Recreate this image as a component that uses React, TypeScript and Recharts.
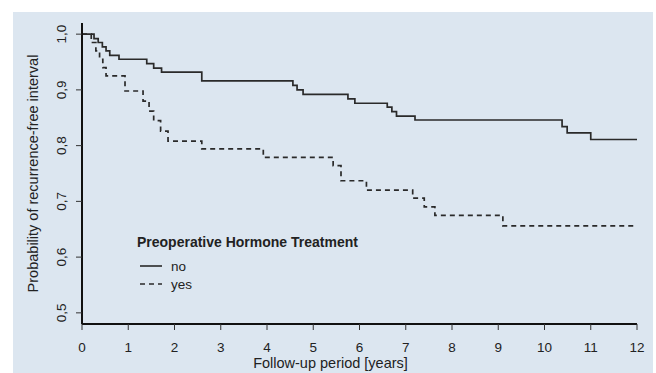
import React from 'react';
import { LineChart, Line, XAxis, YAxis } from 'recharts';

const xTicks = [0, 1, 2, 3, 4, 5, 6, 7, 8, 9, 10, 11, 12];
const yTicks = [0.5, 0.6, 0.7, 0.8, 0.9, 1.0];

const noTimes = [0, 0.26, 0.35, 0.44, 0.52, 0.6, 0.8, 1.4, 1.55, 1.72, 2.59, 4.56, 4.65, 4.78, 5.75, 5.9, 6.6, 6.7, 6.8, 7.2, 10.38, 10.49, 11.0, 12];
const noValues = [1.0, 0.992, 0.985, 0.977, 0.97, 0.962, 0.955, 0.947, 0.939, 0.932, 0.916, 0.908, 0.9, 0.892, 0.884, 0.876, 0.869, 0.861, 0.853, 0.846, 0.834, 0.823, 0.811, 0.811];

const yesTimes = [0, 0.2, 0.3, 0.38, 0.45, 0.52, 0.93, 1.32, 1.45, 1.55, 1.7, 1.86, 2.59, 3.92, 5.43, 5.6, 6.15, 7.15, 7.4, 7.63, 9.1, 12];
const yesValues = [1.0, 0.985, 0.97, 0.955, 0.94, 0.925, 0.898, 0.88, 0.862, 0.845, 0.826, 0.808, 0.794, 0.779, 0.764, 0.737, 0.72, 0.706, 0.69, 0.675, 0.656, 0.656];

const legendTitle = 'Preoperative Hormone Treatment';
const seriesNames = ['no', 'yes'];
const xLabel = 'Follow-up period [years]';
const yLabel = 'Probability of recurrence-free interval';

const noData = noTimes.map((t, i) => ({ t, v: noValues[i] }));
const yesData = yesTimes.map((t, i) => ({ t, v: yesValues[i] }));

const FONT = '"Liberation Sans", Arial, Helvetica, sans-serif';
const BG = '#dce6f0';
const INK = '#222';

const YTick = (props: any) => {
  const { x, y, payload } = props;
  const label = payload.value.toFixed(1).replace('.', ',');
  return (
    <text
      x={x}
      y={y}
      transform={`rotate(-90 ${x} ${y})`}
      textAnchor="middle"
      fontSize={13.5}
      fontFamily={FONT}
      fill={INK}
    >
      {label}
    </text>
  );
};

const XLabel = (props: any) => {
  const vb = props.viewBox || { x: 0, y: 0, width: 0, height: 0 };
  const cx = vb.x + vb.width / 2 - 29;
  return (
    <text x={cx} y={vb.y + vb.height - 5} textAnchor="middle" fontSize={14.5} fontFamily={FONT} fill={INK}>
      {xLabel}
    </text>
  );
};

export default function App() {
  return (
    <div style={{ position: 'absolute', left: 0, top: 0, width: 656, height: 373, background: '#fff' }}>
      <div style={{ position: 'absolute', left: 13, top: 12, width: 640, height: 361, background: BG }} />
      <div style={{ position: 'absolute', left: 0, top: 0 }}>
        <LineChart width={656} height={373} margin={{ top: 23, right: 19, left: 0, bottom: 0 }}>
          <XAxis
            type="number"
            dataKey="t"
            domain={[0, 12]}
            ticks={xTicks}
            allowDataOverflow
            height={49}
            stroke="#111"
            axisLine={{ stroke: '#111', strokeWidth: 2 }}
            tickLine={{ stroke: '#333', strokeWidth: 1 }}
            tickSize={6}
            tickMargin={12}
            tick={{ fontSize: 13.5, fontFamily: FONT, fill: INK }}
            label={<XLabel />}
          />
          <YAxis
            type="number"
            dataKey="v"
            domain={[0.48, 1.02]}
            ticks={yTicks}
            allowDataOverflow
            width={82}
            axisLine={{ stroke: '#111', strokeWidth: 2 }}
            tickLine={{ stroke: '#333', strokeWidth: 1 }}
            tickSize={6}
            tickMargin={10}
            tick={<YTick />}
            label={{
              value: yLabel,
              angle: -90,
              position: 'insideLeft',
              offset: 33,
              style: { textAnchor: 'middle' },
              fontSize: 14.5,
              fontFamily: FONT,
              fill: INK,
            }}
          />
          <Line
            data={noData}
            dataKey="v"
            type="stepAfter"
            stroke="#2a2a2a"
            strokeWidth={1.7}
            dot={false}
            isAnimationActive={false}
          />
          <Line
            data={yesData}
            dataKey="v"
            type="stepAfter"
            stroke="#2a2a2a"
            strokeWidth={1.7}
            strokeDasharray="5 4"
            dot={false}
            isAnimationActive={false}
          />
        </LineChart>
      </div>
      <div style={{ position: 'absolute', left: 137, top: 233, fontFamily: FONT, color: INK }}>
        <div style={{ fontWeight: 'bold', fontSize: 14, lineHeight: '18px', marginBottom: 6 }}>{legendTitle}</div>
        {seriesNames.map((name, i) => (
          <div key={name} style={{ display: 'flex', alignItems: 'center', height: 18, fontSize: 13.5 }}>
            <svg width={30} height={18}>
              <line x1={3} x2={25} y1={9} y2={9} stroke="#2a2a2a" strokeWidth={1.6} strokeDasharray={i === 1 ? '5 4' : undefined} />
            </svg>
            <span style={{ marginLeft: 4 }}>{name}</span>
          </div>
        ))}
      </div>
    </div>
  );
}
